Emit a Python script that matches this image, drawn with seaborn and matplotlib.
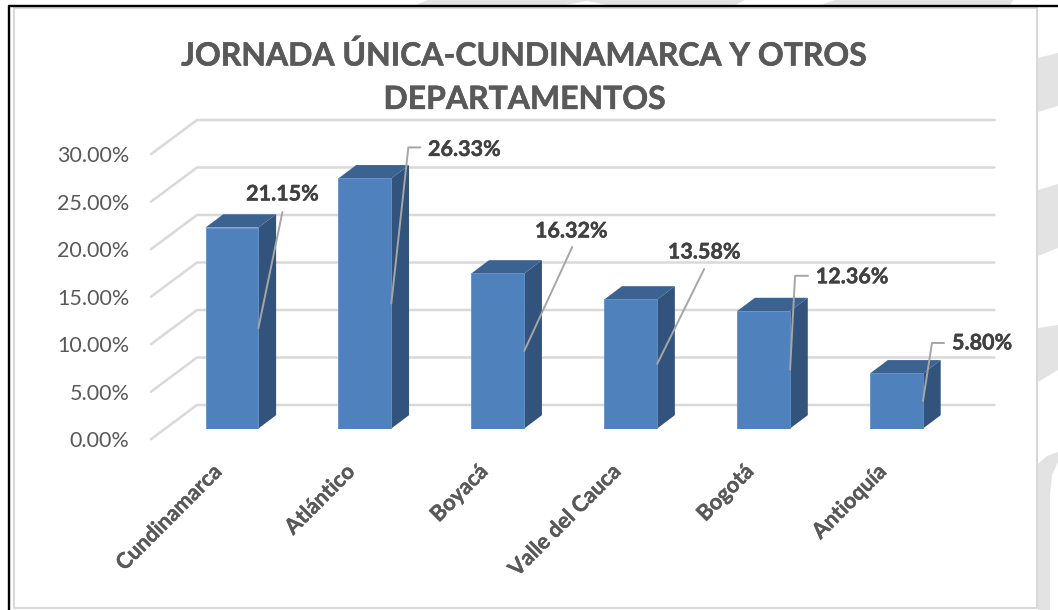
#recreate the 3D looking bar chart with seaborn
import pandas as pd
import matplotlib
matplotlib.use("Agg")
import matplotlib.pyplot as plt
import matplotlib.patheffects as pe
import seaborn as sns
from matplotlib.patches import Polygon, Rectangle
from matplotlib.transforms import Affine2D, IdentityTransform

#data
departamentos = ["Cundinamarca", "Atlántico", "Boyacá", "Valle del Cauca", "Bogotá", "Antioquía"]
porcentajes = [21.15, 26.33, 16.32, 13.58, 12.36, 5.80]
y_ticks = [0, 5, 10, 15, 20, 25, 30]
titulo = "JORNADA ÚNICA-CUNDINAMARCA Y OTROS\nDEPARTAMENTOS"

#where each label sits relative to the middle of its bar side (pixels, y up)
label_offset = [(24, 134), (73, 154), (47, 120), (47, 112), (62, 93), (59, 58)]
#leader line vertices relative to the same point
leaders = [
    [(24, 116)],
    [(17, 156), (29, 156)],
    [(48, 104)],
    [(47, 95)],
    [(5, 94), (18, 94)],
    [(9, 58), (21, 58)],
]

W, H = 1058, 610
sns.set_theme(style="white")
plt.rcParams["font.family"] = ["Lato", "DejaVu Sans"]

fig = plt.figure(figsize=(W / 100, H / 100), dpi=100, facecolor="white")


#figure pixels (y down) to figure fraction
def fx(x):
    return x / W


def fy(y):
    return 1 - y / H


#background: pale watermark pieces around the chart card
wm = "#E3E3E3"
for pts in [
    [(1038, 58), (1058, 53), (1058, 106), (1038, 112)],
    [(1038, 190), (1058, 184), (1058, 248), (1038, 256)],
    [(1038, 328), (1058, 325), (1058, 370), (1038, 382)],
    [(1038, 464), (1047, 456), (1058, 452), (1058, 462), (1052, 475), (1050, 495), (1050, 610), (1038, 610)],
    [(428, 0), (745, 0), (735, 5), (607, 5), (587, 1), (565, 5), (416, 5)],
    [(835, 0), (1013, 0), (1010, 5), (820, 5)],
]:
    fig.patches.append(Polygon([(fx(a), fy(b)) for a, b in pts], transform=fig.transFigure, fc=wm, ec="none", zorder=-2))

#chart card and black frame
fig.patches.append(Rectangle((fx(13.5), fy(608)), (1037 - 13.5) / W, 600 / H, transform=fig.transFigure,
                             fc="white", ec="#D9D9D9", lw=1.5, zorder=-1))
fig.add_artist(plt.Line2D([fx(8.5), 1], [fy(5.5), fy(5.5)], color="black", lw=1.7))
fig.add_artist(plt.Line2D([fx(8.5), fx(8.5)], [fy(5.5), 0], color="black", lw=1.7))

#axes placed so one category step = 132.9 px and 1% = 9.5 px
ax = fig.add_axes([fx(165.5), fy(428.5), (963 - 165.5) / W, 285 / H])
ax.patch.set_alpha(0)
df = pd.DataFrame({"departamento": departamentos, "porcentaje": porcentajes})
sns.barplot(data=df, x="departamento", y="porcentaje", color="#4F81BD", saturation=1, width=0.398,
            edgecolor="#6290C8", linewidth=0.6, ax=ax, zorder=3)
ax.set_xlim(-0.5, 5.5)
ax.set_ylim(0, 30)
sns.despine(ax=ax, left=True, bottom=True)
ax.set_xlabel("")
ax.set_ylabel("")

#pixels to data units, for the fake depth
ux = (W * ax.get_position().width) / 6
uy = (H * ax.get_position().height) / 30
depth_x, depth_y = 17.7 / ux, 13.3 / uy

#grid: floor/side wall diagonal, then back wall
front_x, front_y = -14.5 / ux, -10.7 / uy
back_x, back_y = 31.5 / ux, 23.5 / uy
for t in y_ticks:
    ax.plot([-0.5 + front_x, -0.5 + back_x, 5.5 + back_x], [t + front_y, t + back_y, t + back_y],
            color="#D9D9D9", lw=1.8, clip_on=False, zorder=1, solid_joinstyle="miter")

#side and top faces built from the bars themselves
for bar in ax.patches[:len(porcentajes)]:
    x0, w, v = bar.get_x(), bar.get_width(), bar.get_height()
    ax.add_patch(Polygon([(x0 + w, 0), (x0 + w + depth_x, depth_y), (x0 + w + depth_x, v + depth_y), (x0 + w, v)],
                         fc="#31537C", ec="none", clip_on=False, zorder=2.9))
    ax.add_patch(Polygon([(x0, v), (x0 + depth_x, v + depth_y), (x0 + w + depth_x, v + depth_y), (x0 + w, v)],
                         fc="#3B6291", ec="none", clip_on=False, zorder=2.9))

#tick labels, moved down onto the front edge of the floor
ax.set_yticks(y_ticks)
ax.set_yticklabels(["{:.2f}%".format(t) for t in y_ticks])
ax.tick_params(axis="y", length=0, pad=26, labelsize=15.5, labelcolor="#595959")
for lab in ax.get_yticklabels():
    lab.set_transform(lab.get_transform() + Affine2D().translate(0, -10.7))
ax.tick_params(axis="x", length=0, pad=14, labelsize=15.7)
ax.set_xticks(range(len(departamentos)))
ax.set_xticklabels(departamentos, rotation=45, ha="right", rotation_mode="anchor",
                   fontweight="bold", color="#595959")
for lab in ax.get_xticklabels():
    lab.set_transform(lab.get_transform() + Affine2D().translate(-21, -13))
    lab.set_path_effects([pe.withStroke(linewidth=0.25, foreground="#595959")])

#data labels with their leader lines
fig.canvas.draw()
for i, bar in enumerate(ax.patches[:len(porcentajes)]):
    ax_pt = ax.transData.transform((bar.get_x() + bar.get_width(), bar.get_height() / 2))
    px = [ax_pt[0]] + [ax_pt[0] + d[0] for d in leaders[i]]
    py = [ax_pt[1]] + [ax_pt[1] + d[1] for d in leaders[i]]
    ax.plot(px, py, transform=IdentityTransform(), color="#A6A6A6", lw=1.4, clip_on=False, zorder=5)
    ax.text(ax_pt[0] + label_offset[i][0], ax_pt[1] + label_offset[i][1], "{:.2f}%".format(porcentajes[i]),
            transform=IdentityTransform(), ha="center", va="center", fontsize=15.5, fontweight="bold",
            color="#404040", zorder=6, path_effects=[pe.withStroke(linewidth=0.3, foreground="#404040")])

fig.suptitle(titulo, x=fx(525), y=fy(40), va="top", ha="center", fontsize=23, fontweight="bold",
             color="#595959", linespacing=1.6, path_effects=[pe.withStroke(linewidth=0.4, foreground="#595959")])

fig.savefig("out.png", dpi=100)
